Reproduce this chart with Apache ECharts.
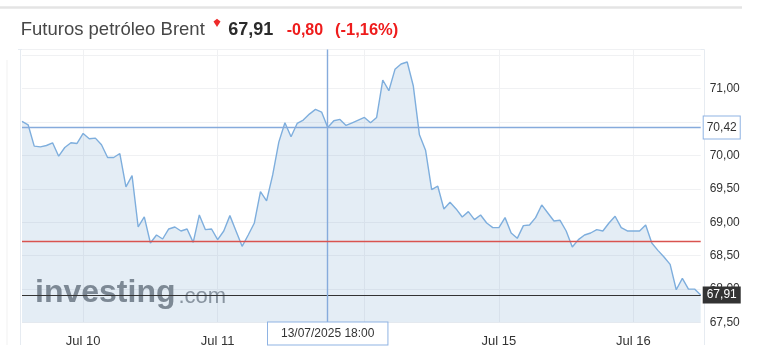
<!DOCTYPE html>
<html>
<head>
<meta charset="utf-8">
<script src="https://cdn.jsdelivr.net/npm/echarts@6/dist/echarts.min.js"></script>
<style>
html,body{margin:0;padding:0;background:#fff;}
#chart{width:767px;height:362px;}
</style>
</head>
<body>
<div id="chart"></div>
<script>
// Trading sessions: [date, first hour, last hour] (hourly points)
const sessions = [
  ['09/07/2025', 12, 21],
  ['10/07/2025', 0, 21],
  ['11/07/2025', 0, 17],
  ['13/07/2025', 18, 23],
  ['14/07/2025', 0, 21],
  ['15/07/2025', 0, 21],
  ['16/07/2025', 0, 11]
];
// Brent futures prices (hourly)
const prices = [
  70.51,70.46,70.14,70.13,70.15,70.19,69.99,70.12,70.19,70.18,
  70.33,70.25,70.26,70.16,69.97,69.97,70.03,69.53,69.70,68.93,
  69.08,68.69,68.81,68.75,68.90,68.93,68.87,68.90,68.70,69.11,
  68.89,68.90,68.74,68.87,69.10,68.87,68.64,68.81,68.99,69.46,
  69.32,69.71,70.20,70.49,70.28,70.48,70.53,70.62,70.69,70.65,
  70.42,70.52,70.54,70.45,70.49,70.53,70.57,70.49,70.57,71.13,
  70.97,71.29,71.37,71.40,71.04,70.31,70.08,69.49,69.54,69.20,
  69.30,69.20,69.08,69.16,69.04,69.11,68.99,68.92,68.92,69.07,
  68.84,68.76,68.95,68.96,69.07,69.26,69.14,69.02,69.03,68.87,
  68.63,68.74,68.81,68.84,68.89,68.87,68.99,69.09,68.92,68.87,
  68.87,68.87,68.96,68.69,68.58,68.48,68.37,67.99,68.16,68.00,
  68.00,67.91
];
const tickDates = ['10/07/2025','11/07/2025','14/07/2025','15/07/2025','16/07/2025'];
const tickLabels = ['Jul 10','Jul 11','Jul 14','Jul 15','Jul 16'];
const yLabelValues = [67.5, 68.0, 68.5, 69.0, 69.5, 70.0, 70.5, 71.0];
const crosshairTime = '13/07/2025 18:00';
const crosshairPrice = 70.42;
const prevClose = 68.71;
const lastPrice = 67.91;
const yRange = { min: 67.5, max: 71.587, step: 0.5 };

const categories = [];
sessions.forEach(function (s) {
  for (let h = s[1]; h <= s[2]; h++) {
    categories.push(s[0] + ' ' + (h < 10 ? '0' + h : '' + h) + ':00');
  }
});

function isTick(idx, val) {
  return tickDates.indexOf(val.slice(0, 10)) >= 0 && val.slice(11) === '00:00';
}
function fmt(v) { return v.toFixed(2).replace('.', ','); }

const chart = echarts.init(document.getElementById('chart'), null, { renderer: 'canvas' });
const FONT = 'Arial, "Liberation Sans", sans-serif';
const frame = '#e6ebf1';

chart.setOption({
  animation: false,
  backgroundColor: '#fff',
  grid: { left: 22, right: 66.3, top: 49.5, bottom: 39.5, containLabel: false },
  xAxis: {
    type: 'category',
    data: categories,
    boundaryGap: false,
    axisLine: { show: false },
    axisTick: { show: false },
    axisLabel: {
      interval: isTick,
      formatter: function (v) { return tickLabels[tickDates.indexOf(v.slice(0, 10))]; },
      color: '#333', fontSize: 13, fontFamily: FONT, margin: 12
    },
    splitLine: { show: true, interval: isTick, lineStyle: { color: '#f0f1f3', width: 1 } }
  },
  yAxis: {
    type: 'value',
    position: 'right',
    min: yRange.min,
    max: yRange.max,
    interval: yRange.step,
    axisLine: { show: false },
    axisTick: { show: false },
    axisLabel: {
      color: '#333', fontSize: 12, fontFamily: FONT, margin: 9,
      showMaxLabel: false,
      formatter: function (v) {
        const r = Math.round(v * 100) / 100;
        return yLabelValues.some(function (t) { return Math.abs(t - r) < 1e-6; }) ? fmt(r) : '';
      }
    },
    splitLine: { show: true, lineStyle: { color: '#f0f1f3', width: 1 } }
  },
  series: [{
    type: 'line',
    data: prices,
    symbol: 'none',
    smooth: false,
    lineStyle: { color: '#7eaedd', width: 1.4 },
    areaStyle: { color: 'rgb(120,165,205)', opacity: 0.2 },
    markLine: {
      silent: true,
      symbol: 'none',
      animation: false,
      lineStyle: { type: 'solid', opacity: 1 },
      data: [
        {
          yAxis: lastPrice,
          lineStyle: { color: '#333333', width: 1.2, type: 'solid' },
          label: {
            show: true, position: 'end', distance: 2,
            formatter: fmt(lastPrice),
            color: '#fff', backgroundColor: '#333',
            fontSize: 12, fontFamily: FONT, padding: [3, 4, 2, 4]
          }
        },
        {
          yAxis: crosshairPrice,
          lineStyle: { color: '#86abdc', width: 1.4, type: 'solid' },
          label: {
            show: true, position: 'end', distance: 3,
            formatter: fmt(crosshairPrice),
            color: '#333', backgroundColor: '#fff',
            borderColor: '#8fb3e3', borderWidth: 1,
            fontSize: 12, fontFamily: FONT, padding: [5, 3, 5, 3]
          }
        },
        {
          xAxis: crosshairTime,
          lineStyle: { color: '#86abdc', width: 1.4, type: 'solid' },
          label: {
            show: true, position: 'start', distance: 0,
            formatter: crosshairTime,
            color: '#333', backgroundColor: '#fff',
            borderColor: '#8fb3e3', borderWidth: 1,
            fontSize: 12, fontFamily: FONT, padding: [5, 13, 5, 13]
          }
        },
        {
          yAxis: prevClose,
          lineStyle: { color: '#d9534f', width: 1.3, type: 'solid' },
          label: { show: false }
        }
      ]
    }
  }],
  graphic: [
    // outer rules and frame
    { type: 'line', shape: { x1: 0, y1: 7.5, x2: 742, y2: 7.5 }, style: { stroke: '#e4e4e4', lineWidth: 2.5 }, silent: true },
    { type: 'line', shape: { x1: 18, y1: 49.5, x2: 704.5, y2: 49.5 }, style: { stroke: frame, lineWidth: 1 }, silent: true },
    { type: 'line', shape: { x1: 20.5, y1: 49.5, x2: 20.5, y2: 345 }, style: { stroke: frame, lineWidth: 1 }, silent: true },
    { type: 'line', shape: { x1: 704.5, y1: 49.5, x2: 704.5, y2: 345 }, style: { stroke: frame, lineWidth: 1 }, silent: true },
    { type: 'line', shape: { x1: 7, y1: 60, x2: 7, y2: 345 }, style: { stroke: '#f1f1f1', lineWidth: 1 }, silent: true },
    // header
    { type: 'text', x: 20.7, y: 29.6, style: { text: 'Futuros petróleo Brent', font: '18.5px ' + FONT, fill: '#474747', verticalAlign: 'middle' }, silent: true },
    { type: 'polygon', shape: { points: [[213.5, 21.5], [217, 18.8], [220.5, 21.5], [217, 27]] }, style: { fill: '#ee2a2a' }, silent: true },
    { type: 'text', x: 228.3, y: 29.8, style: { text: '67,91', font: 'bold 18px ' + FONT, fill: '#2b2b2b', verticalAlign: 'middle' }, silent: true },
    { type: 'text', x: 286.7, y: 30.5, style: { text: '-0,80', font: 'bold 16px ' + FONT, fill: '#ee1c1c', verticalAlign: 'middle' }, silent: true },
    { type: 'text', x: 335, y: 30.5, style: { text: '(-1,16%)', font: 'bold 16.5px ' + FONT, fill: '#ee1c1c', verticalAlign: 'middle' }, silent: true },
    // watermark
    { type: 'text', x: 35, y: 293.2, z: 1, style: { text: 'investing', font: 'bold 32px ' + FONT, fill: '#7f8287', verticalAlign: 'middle' }, silent: true },
    { type: 'text', x: 178.5, y: 296.7, z: 1, style: { text: '.com', font: '22px ' + FONT, fill: '#8e9196', verticalAlign: 'middle' }, silent: true }
  ]
});
</script>
</body>
</html>
